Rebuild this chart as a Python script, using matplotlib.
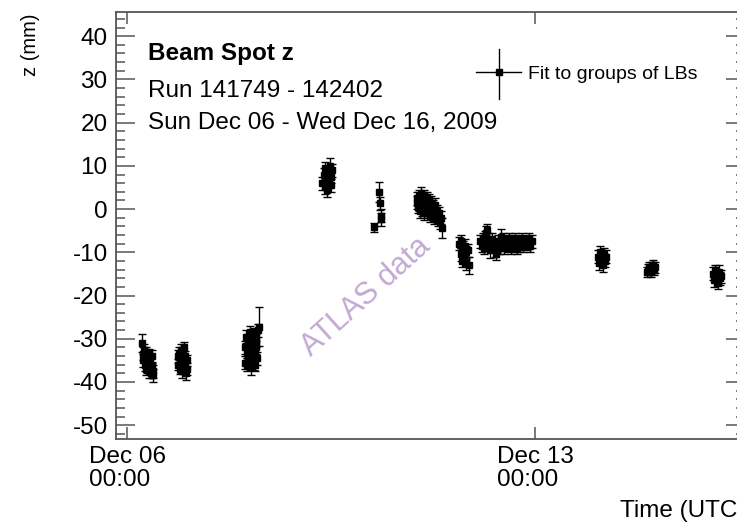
import numpy as np
import matplotlib
matplotlib.use('Agg')
import matplotlib.pyplot as plt
from matplotlib.ticker import MultipleLocator, FixedLocator
from matplotlib.lines import Line2D

plt.rcParams['font.family'] = ['Liberation Sans', 'DejaVu Sans']
plt.rcParams['axes.unicode_minus'] = False

outfile = 'out.png'

# time in days since Sun Dec 06 2009 00:00 UTC, beam spot z in mm
t_days = [
    # run group 1
    0.26, 0.27, 0.28, 0.29, 0.30, 0.31, 0.32, 0.33, 0.34, 0.35,
    0.36, 0.37, 0.38, 0.39, 0.40, 0.41, 0.42, 0.43, 0.44, 0.45,
    # run group 2
    0.87, 0.88, 0.89, 0.90, 0.91, 0.92, 0.93, 0.94, 0.95, 0.96,
    0.97, 0.98, 0.99, 1.00, 1.01, 1.02, 1.03,
    # run group 3
    2.02, 2.03, 2.04, 2.05, 2.06, 2.07, 2.08, 2.09, 2.10, 2.11,
    2.12, 2.13, 2.14, 2.15, 2.16, 2.17, 2.18, 2.19, 2.20, 2.21,
    2.22, 2.23, 2.24, 2.26,
    # run group 4
    3.35, 3.37, 3.39, 3.40, 3.42, 3.43, 3.45, 3.46, 3.48, 3.49,
    3.50, 3.52,
    # run group 5
    4.24, 4.33, 4.34, 4.35, 4.36,
    # run group 6
    4.97, 4.98, 4.99, 5.00, 5.01, 5.02, 5.03, 5.04, 5.05, 5.06,
    5.07, 5.08, 5.09, 5.10, 5.11, 5.12, 5.13, 5.14, 5.15, 5.16,
    5.17, 5.18, 5.19, 5.20, 5.21, 5.22, 5.23, 5.25, 5.27, 5.28,
    5.30, 5.31, 5.33, 5.35, 5.37, 5.38, 5.40,
    # run group 7
    5.70, 5.72, 5.73, 5.75, 5.76, 5.78, 5.79, 5.81, 5.82, 5.84, 5.86,
    # run group 8
    6.06, 6.08, 6.10, 6.12, 6.14, 6.16, 6.17, 6.19, 6.21, 6.23, 6.25, 6.26,
    # run group 9
    6.31, 6.33, 6.35, 6.37, 6.39, 6.41, 6.43, 6.45, 6.47, 6.49,
    6.51, 6.53, 6.55, 6.57, 6.59, 6.61, 6.63, 6.65, 6.67, 6.69,
    6.71, 6.73, 6.75, 6.77, 6.80, 6.83, 6.86, 6.89, 6.92, 6.95,
    # run group 10
    8.08, 8.10, 8.12, 8.14, 8.16, 8.18, 8.20, 8.22,
    # run group 11
    8.92, 8.94, 8.96, 8.98, 9.00, 9.02, 9.04, 9.06,
    # run group 12
    10.05, 10.07, 10.09, 10.11, 10.13, 10.15, 10.17, 10.19,
]

z_mm = [
    -31.0, -33.5, -35.0, -32.5, -36.0, -34.0, -37.0, -33.0, -35.5, -36.5,
    -34.5, -37.5, -33.5, -36.0, -35.0, -38.0, -34.0, -36.5, -37.5, -38.5,
    -34.0, -36.0, -33.5, -37.0, -35.0, -32.5, -36.5, -34.5, -37.5, -33.0,
    -35.5, -32.0, -36.0, -34.0, -38.0, -35.0, -37.0,
    -32.0, -35.5, -29.5, -33.0, -36.0, -30.5, -34.5, -31.0, -35.0, -28.5,
    -33.5, -36.5, -30.0, -34.0, -31.5, -35.5, -29.0, -33.0, -36.0, -30.5,
    -32.0, -34.5, -28.0, -27.2,
    6.0, 8.0, 5.0, 9.5, 7.0, 4.5, 8.5, 6.5, 10.0, 5.5,
    7.5, 9.0,
    -4.2, 3.9, 1.4, -1.5, -2.4,
    1.5, 2.5, 0.5, 3.0, 1.0, 2.0, -0.5, 3.5, 1.5, 0.0,
    2.5, 1.0, 3.0, -1.0, 2.0, 0.5, 1.5, -0.5, 2.5, 1.0,
    0.0, 2.0, -1.5, 1.0, 0.0, 1.5, -1.0, 0.5, -2.0, 1.0,
    -1.5, -0.5, -2.5, -1.0, -3.0, -2.0, -4.4,
    -8.0, -10.5, -7.5, -12.0, -9.0, -11.0, -8.5, -10.0, -12.5, -9.5, -13.0,
    -7.5, -8.5, -7.0, -9.0, -6.5, -5.5, -4.9, -7.0, -8.0, -9.5, -8.0, -7.0,
    -9.5, -10.5, -8.5, -7.5, -9.0, -6.5, -8.0, -7.0, -9.0, -8.0,
    -7.5, -8.5, -7.0, -8.0, -9.0, -7.5, -8.5, -7.0, -8.0, -9.0,
    -7.5, -8.5, -8.0, -7.0, -8.5, -7.5, -8.0, -7.0, -8.5, -7.5,
    -11.0, -12.5, -10.0, -11.5, -13.0, -10.5, -12.0, -11.0,
    -14.5, -14.0, -13.5, -14.5, -13.5, -13.0, -14.0, -13.5,
    -15.0, -16.5, -14.0, -15.5, -17.0, -14.5, -16.0, -15.5,
]

z_err = [
    2.0, 1.5, 1.5, 1.2, 1.5, 1.2, 1.5, 1.2, 1.5, 1.5,
    1.2, 1.5, 1.2, 1.5, 1.5, 1.2, 1.5, 1.2, 1.5, 1.5,
    1.5, 1.2, 1.5, 1.2, 1.5, 1.2, 1.5, 1.2, 1.5, 1.2,
    1.5, 1.2, 1.5, 1.2, 1.5, 1.2, 1.5,
    1.5, 1.5, 1.5, 1.5, 1.5, 1.5, 1.5, 1.5, 1.5, 1.5,
    1.5, 1.8, 1.5, 1.5, 1.5, 1.8, 1.5, 1.5, 1.5, 1.5,
    1.5, 1.5, 1.5, 4.5,
    1.5, 1.5, 1.5, 1.5, 1.5, 1.7, 1.5, 1.5, 1.8, 1.5,
    1.5, 1.5,
    1.0, 2.3, 1.5, 1.5, 1.5,
    1.5, 1.5, 1.5, 1.5, 1.5, 1.5, 1.5, 1.5, 1.5, 1.5,
    1.5, 1.5, 1.5, 1.5, 1.5, 1.5, 1.5, 1.5, 1.5, 1.5,
    1.5, 1.5, 1.5, 1.5, 1.5, 1.5, 1.5, 1.5, 1.5, 1.5,
    1.5, 1.5, 1.5, 1.5, 1.5, 1.5, 2.3,
    1.5, 1.5, 1.5, 1.5, 1.5, 1.5, 1.5, 1.5, 1.5, 1.5, 2.0,
    1.5, 1.5, 1.5, 1.5, 1.5, 1.5, 1.4, 1.5, 1.5, 1.8, 1.5, 1.5,
    1.5, 1.3, 1.5, 1.5, 1.5, 1.9, 1.5, 1.5, 1.5, 1.5,
    1.5, 1.5, 1.5, 1.5, 1.5, 1.5, 1.5, 1.5, 1.5, 1.5,
    1.5, 1.5, 1.5, 1.5, 1.5, 1.5, 1.5, 1.5, 1.5, 1.5,
    1.5, 1.5, 1.5, 1.5, 1.6, 1.5, 1.5, 1.5,
    1.2, 1.2, 1.2, 1.2, 1.2, 1.2, 1.2, 1.2,
    1.5, 1.5, 1.0, 1.5, 1.5, 1.5, 1.5, 1.5,
]

tick_days = [0, 7]
tick_labels = ['Dec 06\n00:00', 'Dec 13\n00:00']

W, H = 737, 524
fig = plt.figure(figsize=(W / 100, H / 100), dpi=100, facecolor='w')

# axes frame in pixels (right edge runs past the canvas, as in the original)
x0, x1, y0, y1 = 116, 745, 12, 439
ax = fig.add_axes([x0 / W, 1 - y1 / H, (x1 - x0) / W, (y1 - y0) / H])

ax.errorbar(t_days, z_mm, yerr=z_err, fmt='s', color='k', ms=4.3,
            elinewidth=1.0, capsize=3, capthick=1.0)

ax.set_xlim(-0.19, 10.6)
ax.set_ylim(-53.2, 45.6)

ax.xaxis.set_major_locator(FixedLocator(tick_days))
ax.set_xticklabels(tick_labels)
ax.yaxis.set_major_locator(MultipleLocator(10))
ax.yaxis.set_minor_locator(MultipleLocator(2))

axcol = '#555555'
for s in ax.spines.values():
    s.set_color(axcol)
    s.set_linewidth(1.3)

ax.tick_params(axis='y', which='major', direction='in', length=13.7, width=1.1,
               left=True, right=True, color=axcol, labelsize=17.5, pad=6)
ax.tick_params(axis='y', which='minor', direction='in', length=6.5, width=1.1,
               left=True, right=True, color=axcol)
ax.tick_params(axis='x', which='major', direction='in', length=8.6, width=1.1,
               bottom=True, top=True, color=axcol, labelsize=17.5, pad=5)
for lbl in ax.get_xticklabels():
    lbl.set_linespacing(1.05)
    lbl.set_multialignment('left')

# axis titles
fig.text(30 / W, 1 - 14 / H, 'z (mm)', rotation=90, ha='center', va='top', fontsize=14.5)
fig.text(x1 / W, 1 - 517 / H, 'Time (UTC)', ha='right', va='baseline', fontsize=17.5)

# info text
fig.text(148 / W, 1 - 60 / H, 'Beam Spot z', fontweight='bold', fontsize=17.5, va='baseline')
fig.text(148 / W, 1 - 97 / H, 'Run 141749 - 142402', fontsize=17.5, va='baseline')
fig.text(148 / W, 1 - 129 / H, 'Sun Dec 06 - Wed Dec 16, 2009', fontsize=17.5, va='baseline')

# legend entry
lx, ly = 499, 72
fig.add_artist(Line2D([(lx - 23) / W, (lx + 22) / W], [1 - ly / H, 1 - ly / H], color='k', lw=1.0))
fig.add_artist(Line2D([lx / W, lx / W], [1 - 49 / H, 1 - 99 / H], color='k', lw=1.0))
fig.add_artist(Line2D([lx / W], [1 - ly / H], marker='s', ms=4, color='k'))
fig.text(528 / W, 1 - 79 / H, 'Fit to groups of LBs', fontsize=14, va='baseline')

# watermark
fig.text(366 / W, 1 - 297 / H, 'ATLAS data', rotation=42, ha='center', va='center',
         fontsize=22, color='#c3a9d4')

plt.savefig(outfile, dpi=100)
